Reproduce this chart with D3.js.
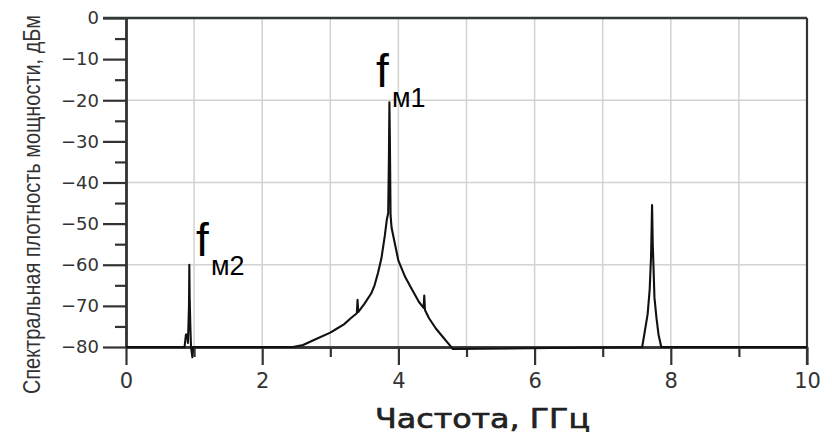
<!DOCTYPE html>
<html lang="ru">
<head>
<meta charset="UTF-8" />
<title>Спектр</title>
<script src="https://d3js.org/d3.v7.min.js"></script>
<style>
  body { margin: 0; background: #fff; }
  svg { display: block; }
  .tick text { fill: #333; font-family: "DejaVu Sans", Verdana, sans-serif; }
</style>
</head>
<body>
<div id="chart"></div>
<script>
// Частоты (ГГц) и уровни (дБм) спектральной кривой
const freq = [0, 0.86, 0.88, 0.90, 0.91, 0.925, 0.93, 0.935, 0.945, 0.955, 0.975, 0.985, 1.0,
  2.45, 2.6, 2.8, 3.0, 3.1, 3.2, 3.3, 3.39, 3.40, 3.41, 3.5, 3.6, 3.65, 3.7, 3.75, 3.8, 3.83, 3.85,
  3.86, 3.868, 3.875, 3.885, 3.9, 3.95, 4.0, 4.1, 4.2, 4.3, 4.37, 4.38, 4.39, 4.45, 4.55, 4.65, 4.75, 4.8,
  7.58, 7.62, 7.66, 7.69, 7.71, 7.725, 7.735, 7.745, 7.76, 7.79, 7.82, 7.86, 10];
const level = [-80, -80, -77, -77, -79, -70, -60, -68, -75, -80, -82.5, -80, -80,
  -80, -79.5, -78, -76.5, -75.5, -74.5, -73, -71.8, -68.5, -71.5, -69.5, -67, -65, -62, -58.5, -53, -49, -47.5,
  -35, -20.5, -30, -48, -51, -55, -59, -63, -66, -69, -70.5, -67.5, -71, -73, -75.5, -77.5, -79.5, -80.5,
  -80, -76, -72, -66, -58, -45.5, -55, -60, -68, -73, -77, -80, -80];

const yTicks = [0, -10, -20, -30, -40, -50, -60, -70, -80];
const xTicks = [0, 2, 4, 6, 8, 10];
const xGrid = [1, 2, 3, 4, 5, 6, 7, 8, 9];
const yGrid = [-20, -40, -60];

const width = 832, height = 436;
const margin = { left: 126, right: 25, top: 18, bottom: 89 };

const svg = d3.select("#chart").append("svg")
  .attr("width", width)
  .attr("height", height);

const x = d3.scaleLinear().domain([0, 10]).range([margin.left, width - margin.right]);
const y = d3.scaleLinear().domain([-80, 0]).range([height - margin.bottom, margin.top]);

// сетка
svg.append("g").selectAll("line.v")
  .data(xGrid).join("line")
  .attr("x1", d => x(d)).attr("x2", d => x(d))
  .attr("y1", y(0)).attr("y2", y(-80))
  .attr("stroke", "#d2d2d2").attr("stroke-width", 1.5);
svg.append("g").selectAll("line.h")
  .data(yGrid).join("line")
  .attr("x1", x(0)).attr("x2", x(10))
  .attr("y1", d => y(d)).attr("y2", d => y(d))
  .attr("stroke", "#d2d2d2").attr("stroke-width", 1.5);

// оси
const yMinor = svg.append("g")
  .attr("transform", `translate(${x(0)},0)`)
  .call(d3.axisLeft(y).tickValues(d3.range(-75, 0, 10)).tickSize(11).tickFormat("").tickSizeOuter(0));
const yAxis = svg.append("g")
  .attr("transform", `translate(${x(0)},0)`)
  .call(d3.axisLeft(y).tickValues(yTicks).tickSize(23).tickPadding(4).tickSizeOuter(0));
yAxis.selectAll("text").style("font-size", "18px");

const xMinor = svg.append("g")
  .attr("transform", `translate(0,${y(-80)})`)
  .call(d3.axisBottom(x).tickValues([1, 3, 5, 7, 9]).tickSize(10).tickFormat("").tickSizeOuter(0));
const xAxis = svg.append("g")
  .attr("transform", `translate(0,${y(-80)})`)
  .call(d3.axisBottom(x).tickValues(xTicks).tickSize(18).tickPadding(8).tickSizeOuter(0));
xAxis.selectAll("text").style("font-size", "21px");

[yMinor, yAxis, xMinor, xAxis].forEach(g => {
  g.selectAll("line").attr("stroke", "#333").attr("stroke-width", 2.2);
  g.select(".domain").attr("stroke", "#333").attr("stroke-width", 2.4);
});

// рамка сверху и справа
svg.append("line")
  .attr("x1", x(0) - 23).attr("x2", x(10))
  .attr("y1", y(0)).attr("y2", y(0))
  .attr("stroke", "#2f3a36").attr("stroke-width", 2.5);
svg.append("line")
  .attr("x1", x(10)).attr("x2", x(10))
  .attr("y1", y(0)).attr("y2", y(-80) + 18)
  .attr("stroke", "#333").attr("stroke-width", 2.2);

// кривая спектра
const line = d3.line().x((d, i) => x(freq[i])).y(d => y(d));
svg.append("path")
  .datum(level)
  .attr("d", line)
  .attr("fill", "none")
  .attr("stroke", "#111")
  .attr("stroke-width", 2.1)
  .attr("stroke-linejoin", "round");

// подписи осей (узкий шрифт имитируем сжатием по длине строки)
svg.append("text")
  .attr("transform", `translate(40,${(12 + 397) / 2}) rotate(-90) scale(0.83,1)`)
  .attr("text-anchor", "middle")
  .style("font-family", "'Liberation Sans', Arial, sans-serif")
  .style("font-size", "24px")
  .style("fill", "#333")
  .text("Спектральная плотность мощности, дБм");

svg.append("text")
  .attr("x", 375)
  .attr("y", 428)
  .attr("textLength", 215)
  .attr("lengthAdjust", "spacingAndGlyphs")
  .style("font-family", "'DejaVu Sans', Verdana, sans-serif")
  .style("font-size", "27px")
  .style("fill", "#222")
  .style("stroke", "#222")
  .style("stroke-width", 0.7)
  .text("Частота, ГГц");

// обозначения пиков
const marks = [
  { fx: 376, fy: 87, sx: 392, sy: 107, sub: "м1" },
  { fx: 196, fy: 256, sx: 211, sy: 275, sub: "м2" }
];
marks.forEach(m => {
  svg.append("text")
    .attr("x", m.fx).attr("y", m.fy)
    .style("font-family", "'Liberation Sans', Arial, sans-serif")
    .style("font-size", "46px")
    .style("fill", "#000")
    .text("f");
  svg.append("text")
    .attr("x", m.sx).attr("y", m.sy)
    .style("font-family", "'Liberation Sans', Arial, sans-serif")
    .style("font-size", "27px")
    .style("fill", "#000")
    .text(m.sub);
});
</script>
</body>
</html>
